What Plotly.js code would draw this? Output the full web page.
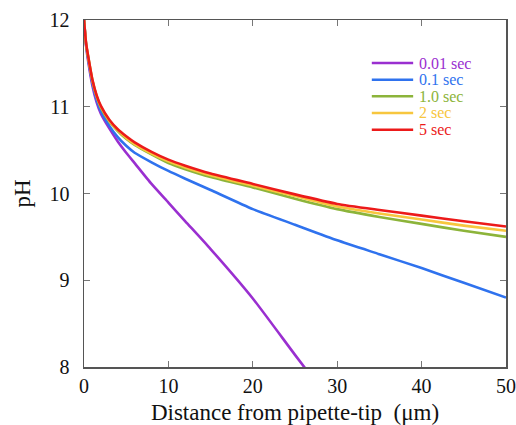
<!DOCTYPE html>
<html>
<head>
<meta charset="utf-8">
<script src="https://cdn.plot.ly/plotly-3.0.1.min.js"></script>
<style>html,body{margin:0;padding:0;background:#fff;}#chart{width:516px;height:425px;}</style>
</head>
<body>
<div id="chart"></div>
<script>
// Distance from pipette tip (µm)
var distance = [0, 0.25, 0.5, 1, 1.5, 2, 3, 4, 5, 6, 8, 10, 12, 15, 20, 25, 30, 35, 40, 45, 50];

// pH profiles at different times
var ph_001 = [12.0, 11.70, 11.52, 11.24, 11.05, 10.92, 10.75, 10.60, 10.47, 10.35, 10.11, 9.895, 9.68, 9.36, 8.79, 8.14, 7.50, null, null, null, null];
var ph_01  = [12.0, 11.71, 11.55, 11.27, 11.08, 10.95, 10.78, 10.65, 10.55, 10.47, 10.36, 10.26, 10.17, 10.04, 9.82, 9.64, 9.46, 9.30, 9.14, 8.97, 8.80];
var ph_1   = [12.0, 11.72, 11.57, 11.30, 11.12, 10.99, 10.83, 10.72, 10.63, 10.56, 10.45, 10.35, 10.28, 10.19, 10.07, 9.94, 9.82, 9.73, 9.65, 9.57, 9.50];
var ph_2   = [12.0, 11.72, 11.57, 11.30, 11.12, 11.00, 10.84, 10.73, 10.64, 10.57, 10.46, 10.37, 10.30, 10.21, 10.09, 9.97, 9.85, 9.77, 9.70, 9.63, 9.57];
var ph_5   = [12.0, 11.73, 11.58, 11.31, 11.13, 11.01, 10.85, 10.74, 10.66, 10.59, 10.48, 10.39, 10.32, 10.23, 10.11, 9.99, 9.88, 9.81, 9.745, 9.68, 9.62];

var seriesNames = ["0.01 sec", "0.1 sec", "1.0 sec", "2 sec", "5 sec"];
var seriesValues = [ph_001, ph_01, ph_1, ph_2, ph_5];
var seriesColors = ["#9a2fd0", "#2f72ee", "#8cb43a", "#f7c63e", "#ec1a1a"];

var xTicks = [0, 10, 20, 30, 40, 50];
var yTicks = [8, 9, 10, 11, 12];

var FONT = "Liberation Serif, Times New Roman, serif";

var traces = seriesValues.map(function (vals, i) {
  return {
    x: distance, y: vals, type: "scatter", mode: "lines",
    name: seriesNames[i],
    line: {color: seriesColors[i], width: 2.6, shape: "spline", smoothing: 0.5},
    connectgaps: false, showlegend: false
  };
});

// Custom legend (compact spacing like the reference)
var legX0 = 0.682, legX1 = 0.780, legTextX = 0.79, legY0 = 0.876, legStep = 0.048;
var shapes = [], annotations = [];
seriesNames.forEach(function (n, i) {
  var yy = legY0 - i * legStep;
  shapes.push({type: "line", xref: "paper", yref: "paper", x0: legX0, x1: legX1, y0: yy, y1: yy,
               line: {color: seriesColors[i], width: 2.5}});
  annotations.push({xref: "paper", yref: "paper", x: legTextX, y: yy, xanchor: "left", yanchor: "middle",
                    text: n, showarrow: false, font: {family: FONT, size: 16, color: seriesColors[i]}});
});

var axisCommon = {
  showline: true, linecolor: "#555", linewidth: 1.5, mirror: "ticks",
  ticks: "inside", ticklen: 6, tickwidth: 1, tickcolor: "#777",
  showgrid: false, zeroline: false,
  tickfont: {family: FONT, size: 20, color: "#111"}
};

var layout = {
  width: 516, height: 425,
  margin: {l: 84, r: 10, t: 20, b: 58},
  paper_bgcolor: "#fff", plot_bgcolor: "#fff",
  font: {family: FONT},
  showlegend: false,
  xaxis: Object.assign({}, axisCommon, {
    range: [0, 50], tickvals: xTicks, ticktext: xTicks.map(String),
    title: {text: "Distance from pipette-tip  (\u03bcm)", font: {family: FONT, size: 23, color: "#111"}, standoff: 12}
  }),
  yaxis: Object.assign({}, axisCommon, {
    range: [8, 12], tickvals: yTicks, ticktext: yTicks.map(String), ticklabelstandoff: 9,
    title: {text: "pH", font: {family: FONT, size: 23, color: "#111"}, standoff: 12}
  }),
  shapes: shapes,
  annotations: annotations
};

Plotly.newPlot("chart", traces, layout, {displayModeBar: false, staticPlot: true});
</script>
</body>
</html>
